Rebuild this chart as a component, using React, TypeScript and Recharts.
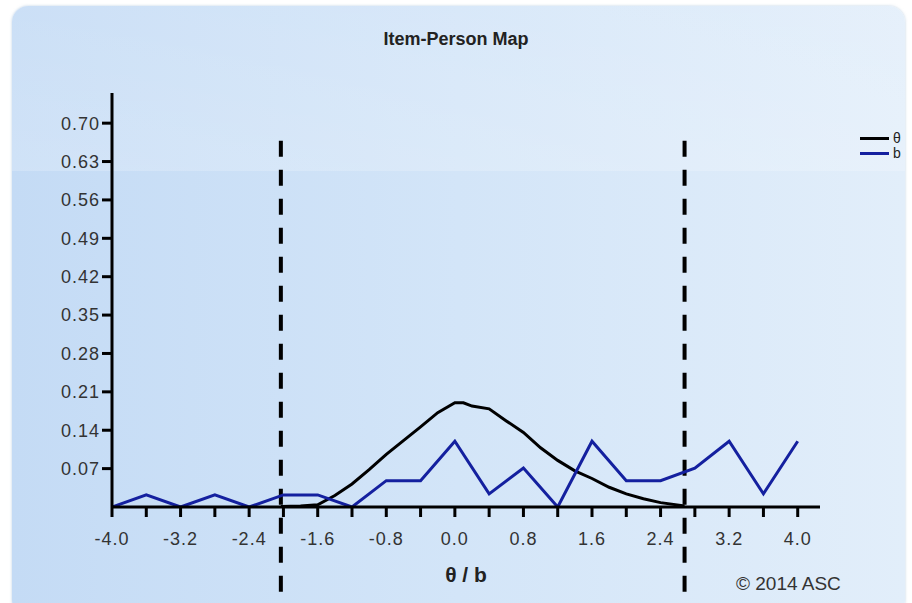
import {
  LineChart,
  Line,
  XAxis,
  YAxis,
  ReferenceLine,
} from "recharts";

// person ability distribution (theta)
const thetaX = [-2.03, -1.8, -1.6, -1.4, -1.2, -1.0, -0.8, -0.6, -0.4, -0.2, 0.0, 0.1, 0.2, 0.4, 0.6, 0.8, 1.0, 1.2, 1.4, 1.6, 1.8, 2.0, 2.2, 2.4, 2.68];
const thetaY = [0.001, 0.002, 0.004, 0.021, 0.042, 0.068, 0.096, 0.121, 0.146, 0.172, 0.19, 0.19, 0.184, 0.179, 0.157, 0.136, 0.108, 0.085, 0.066, 0.052, 0.036, 0.024, 0.015, 0.008, 0.002];

// item difficulty distribution (b)
const bX = [-4.0, -3.6, -3.2, -2.8, -2.4, -2.0, -1.6, -1.2, -0.8, -0.4, 0.0, 0.4, 0.8, 1.2, 1.6, 2.0, 2.4, 2.8, 3.2, 3.6, 4.0];
const bY = [0, 0.022, 0, 0.022, 0, 0.022, 0.022, 0, 0.048, 0.048, 0.12, 0.024, 0.071, 0, 0.12, 0.048, 0.048, 0.071, 0.12, 0.024, 0.12];

const xTicks = [-4.0, -3.6, -3.2, -2.8, -2.4, -2.0, -1.6, -1.2, -0.8, -0.4, 0.0, 0.4, 0.8, 1.2, 1.6, 2.0, 2.4, 2.8, 3.2, 3.6, 4.0];
const yTicks = [0.07, 0.14, 0.21, 0.28, 0.35, 0.42, 0.49, 0.56, 0.63, 0.7];

// min / max theta markers
const thetaMin = -2.03;
const thetaMax = 2.68;

const thetaData = thetaX.map((x, i) => ({ x, theta: thetaY[i] }));
const bData = bX.map((x, i) => ({ x, b: bY[i] }));

const FONT = '"Liberation Sans", Arial, sans-serif';
const tickStyle = { fontSize: 18, fill: "#333", fontFamily: FONT, letterSpacing: 1 };

const legendItems = [
  { label: "θ", color: "#000" },
  { label: "b", color: "#14209f" },
];

// legend kept outside the chart so it does not eat into the plot area
const ChartLegend = () => (
  <div style={{ position: "absolute", left: 860, top: 131, fontFamily: FONT, fontSize: 14, lineHeight: "15px", color: "#222" }}>
    {legendItems.map((item) => (
      <div key={item.label} style={{ display: "flex", alignItems: "center", height: 15 }}>
        <div style={{ width: 29, height: 3, background: item.color, marginRight: 4 }} />
        <span>{item.label}</span>
      </div>
    ))}
  </div>
);

export default function App() {
  return (
    <div style={{ position: "absolute", left: 0, top: 0, width: 912, height: 603, background: "#fff", overflow: "hidden" }}>
      <div
        style={{
          position: "absolute",
          left: 12,
          top: 6,
          width: 893,
          height: 610,
          borderRadius: 16,
          background: "linear-gradient(90deg, #c4dbf5 0%, #d3e5f8 50%, #e2eefa 100%)",
          boxShadow: "0 0 3px rgba(150,180,210,0.6)",
        }}
      >
        <div
          style={{
            position: "absolute",
            left: 0,
            top: 0,
            right: 0,
            height: 165,
            borderRadius: "16px 16px 0 0",
            background: "linear-gradient(180deg, rgba(255,255,255,0.12), rgba(255,255,255,0.2))",
          }}
        />
      </div>
      <div
        style={{
          position: "absolute",
          left: 0,
          width: 912,
          top: 29,
          textAlign: "center",
          fontFamily: FONT,
          fontWeight: "bold",
          fontSize: 18,
          color: "#222",
        }}
      >
        Item-Person Map
      </div>
      <div style={{ position: "absolute", left: 736, top: 573, fontFamily: FONT, fontSize: 19, color: "#333" }}>
        © 2014 ASC
      </div>
      <ChartLegend />
      <div style={{ position: "absolute", left: 0, top: 0 }}>
        <LineChart width={912} height={603} margin={{ top: 93, right: 92, bottom: 0, left: 0 }}>
          <XAxis
            dataKey="x"
            type="number"
            domain={[-4, 4.26]}
            ticks={xTicks}
            allowDataOverflow
            height={96}
            stroke="#000"
            strokeWidth={3}
            tickSize={10}
            tickMargin={15}
            tick={tickStyle}
            tickFormatter={(v: number, i: number) => (i % 2 === 0 ? v.toFixed(1) : "")}
            label={{
              value: "θ / b",
              position: "insideBottom",
              offset: 21,
              style: { fontSize: 21, fontWeight: "bold", fill: "#222", fontFamily: FONT },
            }}
          />
          <YAxis
            type="number"
            domain={[0, 0.755]}
            ticks={yTicks}
            allowDataOverflow
            width={112}
            stroke="#000"
            strokeWidth={3}
            tickSize={10}
            tick={tickStyle}
            tickFormatter={(v: number) => v.toFixed(2)}
          />
          <ReferenceLine
            segment={[
              { x: thetaMin, y: 0.668 },
              { x: thetaMin, y: -0.165 },
            ]}
            stroke="#000"
            strokeWidth={4}
            strokeDasharray="16 13"
            ifOverflow="visible"
          />
          <ReferenceLine
            segment={[
              { x: thetaMax, y: 0.668 },
              { x: thetaMax, y: -0.165 },
            ]}
            stroke="#000"
            strokeWidth={4}
            strokeDasharray="16 13"
            ifOverflow="visible"
          />
          <Line
            data={thetaData}
            dataKey="theta"
            name="θ"
            stroke="#000"
            strokeWidth={3}
            dot={false}
            type="linear"
            isAnimationActive={false}
          />
          <Line
            data={bData}
            dataKey="b"
            name="b"
            stroke="#14209f"
            strokeWidth={3}
            dot={false}
            type="linear"
            isAnimationActive={false}
          />
        </LineChart>
      </div>
    </div>
  );
}
